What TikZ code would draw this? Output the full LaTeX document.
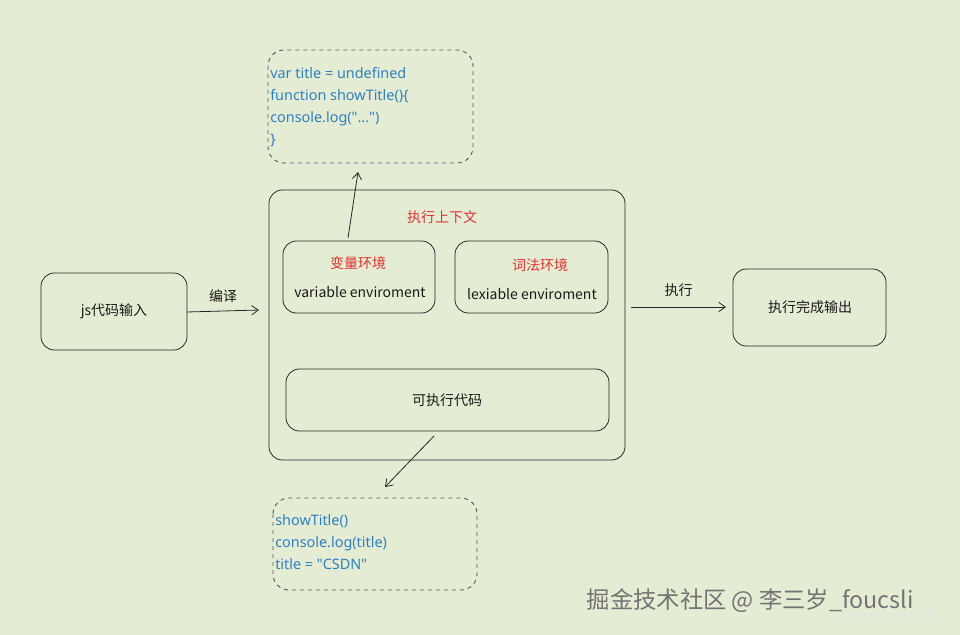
\documentclass[tikz,border=0pt]{standalone}
\usepackage{fontspec}
\setmainfont{Noto Sans CJK SC}
\newfontfamily\codefont[Mapping=]{Noto Sans}
\usetikzlibrary{arrows.meta}
\definecolor{bg}{HTML}{E4EDD4}
\definecolor{codeblue}{HTML}{2F7FC1}
\definecolor{tred}{HTML}{E03131}
\begin{document}
\begin{tikzpicture}[x=0.75pt,y=-0.75pt,
  box/.style={draw=black!85,rounded corners=10pt,line width=0.6pt},
  dbox/.style={draw=black!65,dashed,rounded corners=12pt,line width=0.7pt},
  arr/.style={-{Straight Barb[length=5pt,width=7pt]},line width=0.6pt,black!85},
  lbl/.style={font=\fontsize{10.5}{12}\selectfont,text=black!90},
  rlbl/.style={font=\fontsize{10.5}{12}\selectfont,text=tred},
  code/.style={font=\codefont\fontsize{10.8}{16.5}\selectfont,text=codeblue,align=left,anchor=north west,inner sep=0pt}]
\fill[bg] (0,0) rectangle (960,635);
\useasboundingbox (0,0) rectangle (960,635);
\draw[box] (41,273) rectangle (187,350);
\node[lbl] (jsin) at (114,311) {js代码输入};
\draw[box] (269,190) rectangle (625,460);
\coordinate (ctxL) at (259,310);
\coordinate (ctxR) at (631,307);
\node[rlbl] (ctx) at (442,217) {执行上下文};
\draw[box] (283,241) rectangle (435,313);
\node[rlbl] (ve) at (358,263) {变量环境};
\node[lbl] at (360,292) {variable enviroment};
\draw[box] (455,241) rectangle (608,313);
\node[rlbl] at (540,265) {词法环境};
\node[lbl] at (532,294) {lexiable enviroment};
\draw[box] (286,369) rectangle (609,431);
\node[lbl] at (447,400) {可执行代码};
\draw[box] (733,269) rectangle (886,346);
\node[lbl] (out) at (810,307) {执行完成输出};
\draw[dbox] (268,50) rectangle (473,163);
\node[code] (top) at (270,67) {var title = undefined\\function showTitle()\{\\console.log(\symbol{34}...\symbol{34})\\\}};
\draw[dbox] (273,498) rectangle (477,590);
\node[code] (bot) at (275,514) {showTitle()\\console.log(title)\\title = \symbol{34}CSDN\symbol{34}};
\coordinate (a1) at (187,312);
\coordinate (o1) at (726,307);
\coordinate (u1) at (348,238);
\coordinate (u2) at (358,172);
\coordinate (d1) at (434,436);
\coordinate (d2) at (385,487);
\draw[arr] (a1) -- (ctxL) node[midway,above=3pt,lbl]{编译};
\draw[arr] (ctxR) -- (o1) node[midway,above=4pt,lbl]{执行};
\draw[arr] (u1) -- (u2);
\draw[arr] (d1) -- (d2);
\node[font=\fontsize{17.5}{20}\selectfont,text=black!55,anchor=west] (wm1) at (582,601) {掘金技术社区 @ 李三岁\_foucsli};
\node[font=\fontsize{10.5}{12}\selectfont,text=white!80!gray,anchor=east] (wm2) at (940,618) {CSDN @李三岁};
\end{tikzpicture}
\end{document}
